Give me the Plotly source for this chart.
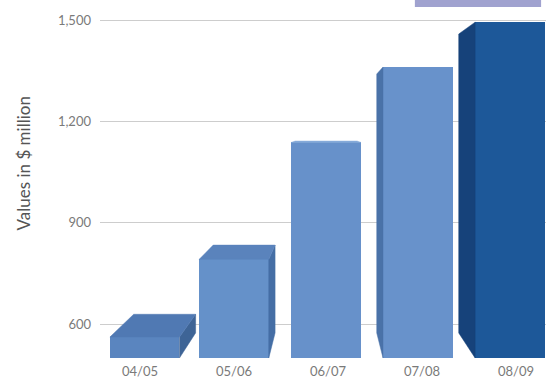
import plotly.graph_objects as go

# ---- data ----
categories = ["04/05", "05/06", "06/07", "07/08", "08/09"]
values = [562, 792, 1138, 1361, 1494]
y_tick_values = [600, 900, 1200, 1500]
y_tick_labels = ["600", "900", "1,200", "1,500"]
y_title = "Values in $ million"

# ---- style ----
front_colors = ["#5a85bf", "#6591c9", "#6791ca", "#6892cb", "#1d5899"]
top_colors = ["#5079b3", "#5a83bc", "#86aad8", "#86aad8", "#2c69aa"]
side_colors = ["#3e6496", "#456ea5", "#456ea5", "#4a72a8", "#16427a"]
bar_width = 0.74
shifts = [0.05, 0.0, -0.02, -0.045, -0.065]
y_base = 500
vp_x, vp_y = 1.98, 1175   # vanishing point (data units)
depth = 0.11

fig = go.Figure()

# front faces as bars
fig.add_trace(go.Bar(
    x=list(range(len(categories))), y=[v - y_base for v in values], base=y_base,
    width=bar_width, offset=[s - bar_width / 2 for s in shifts],
    marker=dict(color=front_colors, line=dict(width=0)),
    hoverinfo="skip", showlegend=False,
))


def back(px, py):
    return px + depth * (vp_x - px), py + depth * (vp_y - py)


for i, v in enumerate(values):
    xl = i + shifts[i] - bar_width / 2
    xr = xl + bar_width
    yb, yt = y_base, v
    faces = []
    if vp_x > xr:
        faces.append(([(xr, yt), (xr, yb), back(xr, yb), back(xr, yt)], side_colors[i]))
    if vp_x < xl:
        faces.append(([(xl, yt), (xl, yb), back(xl, yb), back(xl, yt)], side_colors[i]))
    if vp_y > yt:
        faces.append(([(xl, yt), (xr, yt), back(xr, yt), back(xl, yt)], top_colors[i]))
    for pts, col in faces:
        xs = [p[0] for p in pts] + [pts[0][0]]
        ys = [p[1] for p in pts] + [pts[0][1]]
        fig.add_trace(go.Scatter(
            x=xs, y=ys, mode="lines", fill="toself", fillcolor=col,
            line=dict(color=col, width=0.5), hoverinfo="skip", showlegend=False,
        ))

fig.update_layout(
    width=546, height=378,
    margin=dict(l=100, r=0, t=10, b=20),
    paper_bgcolor="white", plot_bgcolor="white",
    font=dict(family="Lato, 'Open Sans', sans-serif", color="#808080", size=13),
    xaxis=dict(
        range=[-0.4255, 4.319], tickmode="array",
        tickvals=list(range(len(categories))), ticktext=categories,
        showgrid=False, zeroline=False, showline=False, ticks="",
        ticklabelstandoff=4,
        tickfont=dict(size=13, color="#7a7a7a"),
    ),
    yaxis=dict(
        range=[500, 1530], tickmode="array",
        tickvals=y_tick_values, ticktext=y_tick_labels,
        showgrid=True, gridcolor="#cdcdcd", gridwidth=1,
        zeroline=False, showline=False, ticks="",
        ticklabelstandoff=8,
        tickfont=dict(size=13, color="#7a7a7a"),
    ),
    bargap=0,
    shapes=[dict(type="rect", xref="paper", yref="paper",
                 x0=0.706, x1=0.989, y0=1.0086, y1=1.05,
                 fillcolor="#a0a2cf", line=dict(width=0), layer="above")],
    annotations=[dict(text=y_title, xref="paper", yref="paper",
                      x=-0.172, y=0.56, xanchor="center", yanchor="middle",
                      textangle=-90, showarrow=False,
                      font=dict(size=17, color="#555555"))],
)

fig.write_html("out.html", config={"displayModeBar": False},
               post_script="document.body.style.margin='0';")
